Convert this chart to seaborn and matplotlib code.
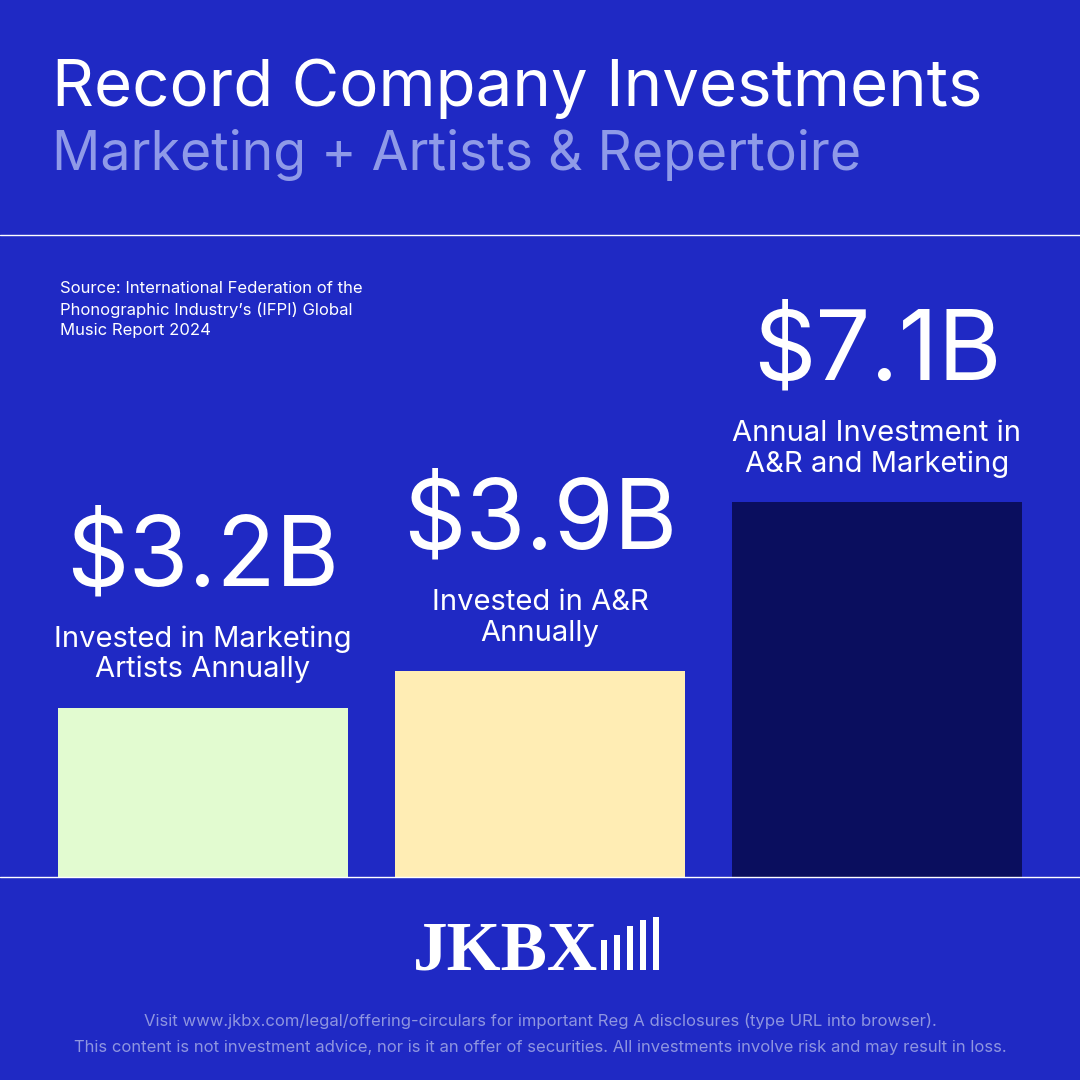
import matplotlib.pyplot as plt
import seaborn as sns
import pandas as pd
from matplotlib.patches import Rectangle

# data
categories = ['Marketing', 'A&R', 'Total']
values = [3.2, 3.9, 7.1]
value_labels = ['$3.2B', '$3.9B', '$7.1B']
descriptions = ['Invested in Marketing\nArtists Annually', 'Invested in A&R\nAnnually',
                'Annual Investment in\nA&R and Marketing']
bar_colors = ['#e2fbd0', '#ffedb4', '#0a0e5e']

BG = '#1f29c4'
sns.set_style('white')
plt.rcParams['font.family'] = ['Inter', 'DejaVu Sans']

fig = plt.figure(figsize=(10.8, 10.8), dpi=100, facecolor=BG)

# bar area: y from 877px (baseline) to 235px
ax = fig.add_axes([0, (1080 - 877) / 1080, 1, (877 - 235) / 1080])
ax.set_facecolor(BG)
df = pd.DataFrame({'cat': categories, 'val': values})
sns.barplot(data=df, x='cat', y='val', hue='cat', palette=bar_colors, width=0.86,
            legend=False, ax=ax, saturation=1, edgecolor='none', linewidth=0)
ax.set_xlim(-203 / 337, (1080 - 203) / 337)
ax.set_ylim(0, 642 / 52.8)
ax.axis('off')

for i, (v, lab, desc) in enumerate(zip(values, value_labels, descriptions)):
    ax.annotate(desc, xy=(i, v), xytext=(0, 22), textcoords='offset points',
                ha='center', va='baseline', fontsize=21, color='white', linespacing=1.15)
    ax.annotate(lab, xy=(i, v), xytext=(0, 88), textcoords='offset points',
                ha='center', va='baseline', fontsize=70, color='white')

# separator lines
fig.add_artist(plt.Line2D([0, 1], [1 - 235 / 1080] * 2, color='white', lw=1))
fig.add_artist(plt.Line2D([0, 1], [1 - 877 / 1080] * 2, color='white', lw=1))

# titles
fig.text(52 / 1080, 1 - 106 / 1080, 'Record Company Investments', fontsize=47,
         color='white', va='baseline')
fig.text(52 / 1080, 1 - 170 / 1080, 'Marketing + Artists & Repertoire', fontsize=38.5,
         color='#8f9ae8', va='baseline')

fig.text(60 / 1080, 1 - 281 / 1080,
         "Source: International Federation of the\nPhonographic Industry’s (IFPI) Global\nMusic Report 2024",
         fontsize=12, color='white', va='top', linespacing=1.45)

# logo
fig.text(505 / 1080, 1 - 970 / 1080, 'JKBX', fontsize=50, fontweight='bold',
         family='Liberation Serif', color='white', ha='center', va='baseline')
for x0, top in [(601, 940), (614, 935), (627, 926), (640, 920), (653, 917)]:
    fig.add_artist(Rectangle((x0 / 1080, 1 - 970 / 1080), 6 / 1080, (970 - top) / 1080,
                             transform=fig.transFigure, color='white', lw=0))

fig.text(0.5, 1 - 1026 / 1080,
         'Visit www.jkbx.com/legal/offering-circulars for important Reg A disclosures (type URL into browser).',
         fontsize=12, color='#8e95e0', ha='center', va='baseline')
fig.text(0.5, 1 - 1052 / 1080,
         'This content is not investment advice, nor is it an offer of securities. All investments involve risk and may result in loss.',
         fontsize=12, color='#8e95e0', ha='center', va='baseline')

fig.savefig('out.png', dpi=100, facecolor=BG)
